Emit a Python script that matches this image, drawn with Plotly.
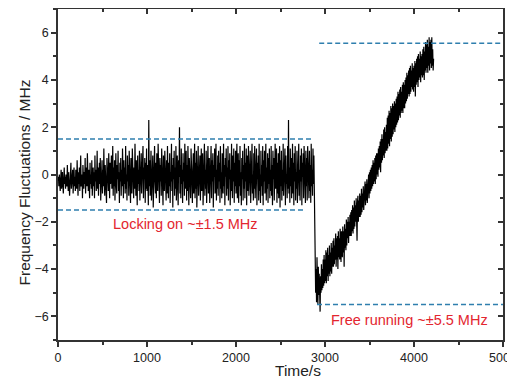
import plotly.graph_objects as go

sample_step_s = 5
lock_start_s = 0
free_start_s = 2890

lock_values = [
    -0.3, -0.1, -0.5, 0.0, -0.4, -0.7, -0.2, 0.2, -0.6, -0.3, 0.1, -0.5, -0.8, -0.2, 0.3, -0.4, -0.1, -0.6, 0.0, -0.3,
    -0.5, 0.4, -0.2, -0.7, 0.1, -0.4, -0.9, 0.0, -0.3, 0.5, -0.6, -0.1, -0.4, 0.2, -0.8, -0.2, 0.3, -0.5, -0.1, -0.7,
    0.2, -0.3, -0.6, 0.6, -0.2, -0.9, 0.1, -0.4, 0.3, -0.7, -0.1, 0.8, -0.5, -0.3, 0.0, -1.0, 0.4, -0.2, -0.6, 0.1,
    -0.4, 0.7, -0.8, -0.1, 0.3, -0.5, 0.9, -0.3, -0.7, 0.2, -0.2, -1.0, 0.5, -0.4, 0.0, -0.6, 0.6, -0.9, -0.1, 0.3,
    -0.5, 0.1, -1.0, 0.8, -0.3, 0.2, -0.7, -0.1, 1.0, -0.6, 0.3, -0.9, -0.2, 0.5, -0.4, 0.7, -1.1, 0.0, -0.3, 0.6,
    -0.8, 0.2, -0.5, 1.1, -0.2, -0.9, 0.4, -0.6, 0.0, -1.2, 0.7, -0.3, 0.3, -0.7, 0.9, -0.1, -1.0, 0.5, -0.4, 0.1,
    0.8, -0.6, -0.2, 1.2, -0.9, 0.3, -0.5, 0.6, -1.1, 0.0, 0.9, -0.4, -0.8, 0.4, -0.2, 1.0, -0.7, 0.1, -1.2, 0.5,
    -0.3, 0.7, -0.9, 0.2, -0.5, 1.1, -0.1, -1.0, 0.6, -0.4, 0.3, -0.8, 1.2, -0.6, 0.0, -1.1, 0.8, -0.3, 0.4, -0.9,
    1.0, -0.5, 0.2, -1.2, 0.7, -0.2, -0.8, 1.1, -0.4, 0.5, -1.0, 0.3, -0.6, 1.3, -0.3, -0.9, 0.6, -0.1, -1.3, 0.8,
    -0.4, 0.2, -0.7, 1.0, -1.1, 0.4, -0.3, 0.9, -0.8, 0.1, -0.5, 1.2, -1.0, 0.3, -0.2, 0.7, -1.2, 0.5, -0.6, 1.1,
    -0.7, 0.4, -0.2, -1.3, 2.3, -0.5, 0.6, -0.9, 0.1, 1.0, -1.1, 0.3, -0.4, 0.8, -1.4, 0.2, -0.6, 1.2, -0.3, -0.8,
    0.5, -1.0, 0.9, -0.2, -0.7, 1.3, -0.5, 0.0, -1.2, 0.7, -0.3, 0.4, -0.9, 1.1, -0.6, 0.2, -1.3, 0.8, -0.1, -0.7,
    1.0, -0.4, 0.3, -1.1, 0.6, -0.8, 1.2, -0.2, -1.0, 0.5, -0.5, 0.9, -1.2, 0.1, -0.3, 1.3, -0.7, 0.4, -1.4, 0.7,
    -0.2, 1.0, -0.9, 0.3, -0.6, 1.2, -1.1, 0.0, 0.8, -0.5, -1.3, 0.6, -0.1, 2.0, -0.8, 0.4, -1.0, 1.1, -0.4, 0.2,
    -1.2, 0.9, -0.3, 0.5, -0.9, 1.3, -0.6, -0.1, 1.0, -1.1, 0.4, -0.7, 1.2, -0.2, -1.3, 0.7, -0.5, 0.3, -1.0, 1.1,
    -0.4, 0.6, -1.2, 0.2, 0.9, -0.8, -0.2, 1.3, -1.0, 0.5, -0.6, 1.0, -1.4, 0.3, -0.3, 1.2, -0.9, 0.1, -0.5, 0.8,
    -1.1, 0.4, 1.1, -0.7, -0.1, 0.9, -1.3, 0.6, -0.4, 1.3, -0.9, 0.2, -0.6, 1.0, -1.2, 0.5, -0.2, 1.2, -0.8, 0.0,
    0.7, -1.2, 0.3, -0.5, 1.2, -1.0, 0.6, -0.3, 0.9, -1.4, 0.4, -0.1, 1.1, -0.8, -0.4, 1.3, -1.1, 0.2, -0.6, 0.8,
    -0.9, 1.0, -0.3, 0.5, -1.2, 1.2, -0.6, 0.1, -1.0, 0.9, -0.2, -0.8, 1.3, -0.5, 0.4, -1.3, 0.7, -0.1, 1.1, -0.9,
    0.3, -0.6, 1.2, -1.1, 0.6, -0.2, 0.9, -1.3, 0.2, -0.7, 1.3, -0.4, -1.0, 0.8, -0.3, 1.1, -1.2, 0.5, -0.5, 1.0,
    -0.8, 0.2, 1.3, -1.0, -0.3, 0.9, -1.2, 0.6, -0.5, 1.2, -0.9, 0.1, -1.3, 0.7, -0.2, 1.0, -1.1, 0.4, -0.6, 1.3,
    -1.0, 0.5, -0.3, 1.1, -1.3, 0.8, -0.1, -0.7, 1.2, -0.9, 0.3, -0.5, 1.0, -1.2, 0.6, -0.4, 1.3, -0.8, 0.0, -1.1,
    0.9, -0.6, 1.2, -1.0, 0.2, -0.4, 1.1, -1.3, 0.5, -0.2, 0.8, -1.1, 1.3, -0.7, 0.0, -1.2, 1.0, -0.5, 0.4, -0.9,
    1.2, -1.3, 0.6, -0.3, 1.0, -0.8, -0.1, 1.3, -1.1, 0.3, -0.6, 0.9, -1.2, 0.7, -0.4, 1.1, -1.0, 0.2, -0.7, 1.2,
    -0.9, 0.4, -1.3, 1.0, -0.2, 0.7, -1.1, 0.1, 1.3, -0.6, -0.3, 1.1, -1.2, 0.5, -0.8, 0.9, -1.0, 0.3, 1.2, -1.4,
    0.6, -0.5, 1.0, -1.1, 0.2, -0.7, 1.3, -0.9, 0.4, -0.2, 1.1, -1.3, 0.8, -0.4, 0.0, -1.0, 1.2, -0.6, 2.3, -0.8,
    0.3, -1.2, 1.1, -0.5, 0.7, -1.0, -0.2, 1.3, -0.8, 0.5, -1.3, 0.9, -0.3, 1.2, -1.1, 0.1, -0.6, 1.0, -1.2, 0.6,
    -0.4, 1.3, -0.9, 0.2, -1.1, 0.8, -0.3, 1.1, -1.3, 0.5, -0.1, 0.9, -1.0, 1.2, -0.6, 0.3, -1.2, 1.0, -0.5, 0.7,
    -1.1, 1.2, -0.3, 0.6, -1.0, 1.0, -0.7, 0.4, -1.2, 1.3, -0.5, 0.2, -0.9, 1.1, -0.4, 0.8, -0.6,
]

free_values = [
    -3.6, -5.0, -4.0, -5.4, -3.5, -4.9, -5.5, -3.9, -5.1, -4.2, -5.3, -5.8, -4.3, -5.0, -3.8, -4.9, -4.0, -4.8, -3.6, -4.7,
    -3.4, -4.6, -3.6, -4.5, -3.2, -4.6, -3.3, -4.3, -3.1, -4.5, -3.4, -4.2, -3.0, -4.3, -3.3, -4.1, -2.9, -4.2, -3.1, -3.9,
    -2.8, -3.9, -2.7, -3.8, -3.0, -3.6, -2.5, -3.9, -2.7, -3.6, -2.6, -4.0, -2.4, -3.5, -2.7, -3.6, -2.3, -3.4, -3.7, -2.4,
    -2.5, -3.5, -2.2, -3.3, -2.4, -3.9, -2.1, -3.1, -2.3, -3.2, -1.9, -3.0, -2.0, -2.7, -1.8, -2.9, -2.0, -2.6, -1.7, -2.6,
    -1.6, -2.6, -1.5, -2.4, -1.3, -2.5, -1.4, -2.3, -1.1, -2.2, -1.3, -2.0, -1.0, -2.1, -2.8, -1.2, -0.9, -2.0, -1.1, -1.8,
    -0.8, -1.8, -0.9, -1.7, -0.6, -1.6, -0.8, -1.4, -0.5, -1.5, -0.6, -1.2, -0.3, -1.3, -0.4, -1.1, -0.2, -1.2, -0.3, -0.9,
    0.0, -1.0, 0.1, -0.8, 0.2, -0.7, 0.3, -0.6, 0.4, -0.5, 0.6, -0.4, 0.5, -0.3, 0.7, -0.4, 0.8, -0.2, 0.9, 0.0,
    0.9, -0.1, 1.1, 0.2, 1.2, 0.3, 1.4, 0.1, 1.5, 0.5, 1.7, 0.6, 1.5, 0.8, 1.9, 0.7, 2.0, 0.9, 1.8, 1.0,
    2.1, 1.0, 2.4, 1.1, 2.5, 1.3, 2.7, 1.2, 2.6, 1.5, 2.9, 1.4, 2.8, 1.6, 3.0, 1.7, 2.9, 1.9, 3.1, 1.8,
    3.0, 2.0, 3.2, 2.1, 3.3, 2.2, 3.5, 2.3, 3.4, 2.5, 3.6, 2.4, 3.7, 2.6, 3.5, 2.7, 3.8, 2.6, 3.9, 2.8,
    3.8, 2.8, 4.0, 3.0, 4.1, 3.1, 4.3, 3.2, 4.2, 3.4, 4.4, 3.3, 4.5, 3.4, 4.6, 3.5, 4.4, 3.7, 4.7, 3.6,
    4.5, 3.5, 4.6, 3.7, 4.8, 3.3, 4.7, 3.8, 4.9, 3.9, 5.0, 3.7, 5.1, 4.0, 4.9, 4.1, 5.2, 3.9, 5.0, 4.2,
    5.1, 4.1, 5.3, 4.2, 5.4, 4.0, 5.2, 4.4, 5.6, 4.3, 5.5, 4.5, 5.7, 4.3, 5.4, 4.6, 5.8, 4.4, 5.6, 4.7,
    5.7, 4.5, 5.8, 4.6, 5.3, 4.4, 4.9,
]

lock_time = [lock_start_s + i * sample_step_s for i in range(len(lock_values))]
free_time = [free_start_s + i * sample_step_s for i in range(len(free_values))]
time_s = lock_time + free_time
freq_mhz = lock_values + free_values

# reference band lines
lock_upper_x = [0, 2870]
lock_upper_y = [1.5, 1.5]
lock_lower_x = [0, 2780]
lock_lower_y = [-1.5, -1.5]
free_upper_x = [2935, 5000]
free_upper_y = [5.55, 5.55]
free_lower_x = [2910, 5000]
free_lower_y = [-5.5, -5.5]

x_ticks = [0, 1000, 2000, 3000, 4000, 5000]
y_ticks = [-6, -4, -2, 0, 2, 4, 6]
x_range = [0, 5000]
y_range = [-7, 7]

lock_label = "Locking on ~±1.5 MHz"
free_label = "Free running ~±5.5 MHz"
lock_label_pos = (1430, -2.08)
free_label_pos = (3950, -6.15)
x_title = "Time/s"
y_title = "Frequency Fluctuations / MHz"

FONT = "Liberation Sans, Arial, sans-serif"
AXIS_COLOR = "#333333"
DASH_COLOR = "#2f7fae"
RED = "#e3262f"

fig = go.Figure()
fig.add_trace(go.Scatter(x=time_s, y=freq_mhz, mode="lines",
                         line=dict(color="#000000", width=1.2), showlegend=False))
for xs, ys in [(lock_upper_x, lock_upper_y), (lock_lower_x, lock_lower_y),
               (free_upper_x, free_upper_y), (free_lower_x, free_lower_y)]:
    fig.add_trace(go.Scatter(x=xs, y=ys, mode="lines",
                             line=dict(color=DASH_COLOR, width=1.5, dash="5px,3px"),
                             showlegend=False))
# dummy trace for the mirror axes
fig.add_trace(go.Scatter(x=[None], y=[None], xaxis="x2", yaxis="y2", showlegend=False))

fig.add_annotation(x=lock_label_pos[0], y=lock_label_pos[1], text=lock_label,
                   showarrow=False, font=dict(family=FONT, size=14.5, color=RED))
fig.add_annotation(x=free_label_pos[0], y=free_label_pos[1], text=free_label,
                   showarrow=False, font=dict(family=FONT, size=14.5, color=RED))
fig.add_annotation(x=0.5, y=0, xref="paper", yref="paper", text=x_title, showarrow=False,
                   xanchor="center", yanchor="middle", xshift=17, yshift=-30,
                   font=dict(family=FONT, size=15.5, color="#222222"))
fig.add_annotation(x=0, y=0.5, xref="paper", yref="paper", text=y_title, showarrow=False,
                   textangle=-90, xanchor="center", yanchor="middle", xshift=-34, yshift=-8,
                   font=dict(family=FONT, size=15.5, color="#222222"))

common = dict(showgrid=False, zeroline=False, showline=True, linecolor=AXIS_COLOR,
              linewidth=1.5, tickcolor=AXIS_COLOR, tickwidth=1.5, automargin=False)

# the page body adds an 8 px offset, so the figure is sized to the remaining window
fig.update_layout(
    width=507, height=377,
    margin=dict(l=50, r=12, t=1, b=45),
    paper_bgcolor="white", plot_bgcolor="white",
    font=dict(family=FONT, color="#222222", size=12.5),
    xaxis=dict(range=x_range, tickvals=x_ticks, ticks="outside", ticklen=5,
               ticklabeloverflow="allow",
               minor=dict(dtick=500, ticks="outside", ticklen=3, tickcolor=AXIS_COLOR, tickwidth=1.5),
               tickfont=dict(size=12.5), **common),
    yaxis=dict(range=y_range, tickvals=y_ticks, ticks="outside", ticklen=5,
               minor=dict(dtick=1, ticks="outside", ticklen=3, tickcolor=AXIS_COLOR, tickwidth=1.5),
               tickfont=dict(size=12.5), **common),
    xaxis2=dict(range=x_range, tickvals=x_ticks, ticks="inside", ticklen=5, overlaying="x",
                side="top", anchor="y", showticklabels=False,
                minor=dict(dtick=500, ticks="inside", ticklen=3, tickcolor=AXIS_COLOR, tickwidth=1.5),
                **common),
    yaxis2=dict(range=y_range, tickvals=y_ticks, ticks="inside", ticklen=5, overlaying="y",
                side="right", anchor="x", showticklabels=False,
                minor=dict(dtick=1, ticks="inside", ticklen=3, tickcolor=AXIS_COLOR, tickwidth=1.5),
                **common),
)

fig.write_html("out.html")
